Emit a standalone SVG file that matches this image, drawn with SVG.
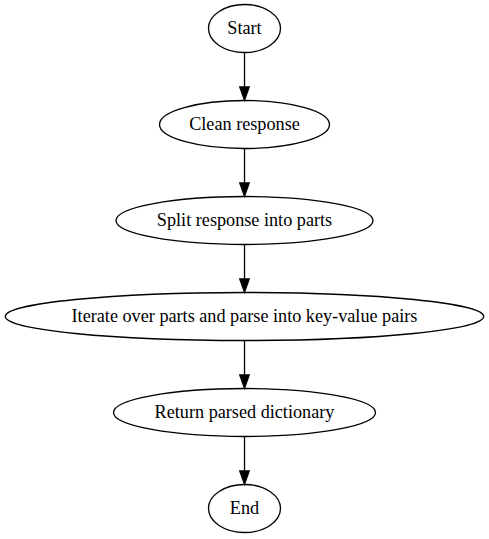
<svg xmlns="http://www.w3.org/2000/svg" width="489" height="539" viewBox="0 0 489 539">
<style>
.n ellipse{fill:none;stroke:#000;stroke-width:1.33}
.n text{font-family:"Liberation Serif","Times New Roman",serif;font-size:18.2px;text-anchor:middle;fill:#000}
.e path{fill:none;stroke:#000;stroke-width:1.33}
.e polygon{fill:#000;stroke:#000;stroke-width:1.33}
</style>
<rect width="489" height="539" fill="#fff"/>
<g id="edges" class="e">
<path d="M244.5,52.5V87"/><polygon points="239.8,87 244.5,100.3 249.2,87"/>
<path d="M244.5,148.5V183"/><polygon points="239.8,183 244.5,196.3 249.2,183"/>
<path d="M244.5,244.5V279"/><polygon points="239.8,279 244.5,292.3 249.2,279"/>
<path d="M244.5,340.5V375"/><polygon points="239.8,375 244.5,388.3 249.2,375"/>
<path d="M244.5,436.5V471"/><polygon points="239.8,471 244.5,484.3 249.2,471"/>
</g>
<g id="start" class="n"><ellipse cx="244.5" cy="28.5" rx="36" ry="24"/><text x="244.5" y="34">Start</text></g>
<g id="clean" class="n"><ellipse cx="244.5" cy="124.5" rx="85" ry="24"/><text x="244.5" y="130">Clean response</text></g>
<g id="split" class="n"><ellipse cx="244.5" cy="220.5" rx="128.5" ry="24"/><text x="244.5" y="226">Split response into parts</text></g>
<g id="iterate" class="n"><ellipse cx="244.5" cy="316.5" rx="239.2" ry="24"/><text x="244.5" y="322">Iterate over parts and parse into key-value pairs</text></g>
<g id="return" class="n"><ellipse cx="244.5" cy="412.5" rx="131" ry="24"/><text x="244.5" y="418">Return parsed dictionary</text></g>
<g id="end" class="n"><ellipse cx="244.5" cy="508.5" rx="36" ry="24"/><text x="244.5" y="514">End</text></g>
</svg>
